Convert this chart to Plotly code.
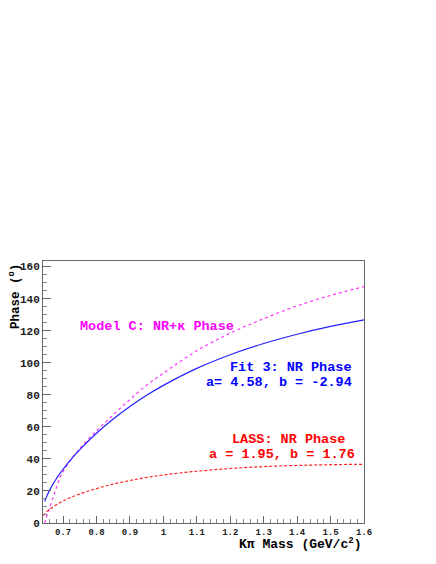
import plotly.graph_objects as go

# K-pi invariant mass points (GeV/c^2)
mass_fit = [0.645, 0.65, 0.655, 0.66, 0.67, 0.68, 0.69, 0.70, 0.725, 0.75, 0.80, 0.85,
            0.90, 0.95, 1.0, 1.1, 1.2, 1.3, 1.4, 1.5, 1.6]
phase_fit3 = [13.4, 16.1, 18.4, 20.5, 24.3, 27.6, 30.7, 33.5, 40.0, 45.8, 56.0, 64.9,
              72.7, 79.7, 85.9, 96.5, 105.0, 112.0, 117.8, 122.7, 126.8]

mass_lass = [0.641, 0.645, 0.65, 0.655, 0.66, 0.67, 0.68, 0.69, 0.70, 0.725, 0.75, 0.80,
             0.85, 0.90, 0.95, 1.0, 1.1, 1.2, 1.3, 1.4, 1.5, 1.6]
phase_lass = [4.6, 5.7, 6.8, 7.7, 8.6, 10.1, 11.4, 12.6, 13.7, 16.1, 18.1, 21.5,
              24.3, 26.5, 28.4, 30.0, 32.3, 34.0, 35.2, 35.9, 36.4, 36.6]

mass_model = [0.645, 0.65, 0.655, 0.66, 0.67, 0.68, 0.69, 0.70, 0.725, 0.75, 0.80, 0.85,
              0.90, 0.95, 1.0, 1.1, 1.2, 1.3, 1.4, 1.5, 1.6]
phase_model = [0.0, 3.5, 6.5, 9.5, 16.0, 22.0, 28.0, 32.0, 40.0, 46.5, 57.5, 67.5,
               77.0, 86.0, 93.5, 107.5, 118.5, 127.5, 135.5, 142.0, 147.5]

x_ticks = [0.7, 0.8, 0.9, 1.0, 1.1, 1.2, 1.3, 1.4, 1.5, 1.6]
x_labels = ["0.7", "0.8", "0.9", "1", "1.1", "1.2", "1.3", "1.4", "1.5", "1.6"]
y_ticks = [0, 20, 40, 60, 80, 100, 120, 140, 160]

FONT = "Liberation Mono, Courier New, monospace"

fig = go.Figure()
fig.add_trace(go.Scatter(x=mass_model, y=phase_model, mode="lines", line_shape="spline",
                         line=dict(color="#ff33ff", width=1.2, dash="dot")))
fig.add_trace(go.Scatter(x=mass_fit, y=phase_fit3, mode="lines", line_shape="spline",
                         line=dict(color="#2222ff", width=1.2)))
fig.add_trace(go.Scatter(x=mass_lass, y=phase_lass, mode="lines", line_shape="spline",
                         line=dict(color="#ff2222", width=1.2, dash="3px,2px")))

texts = [
    dict(x=0.981, y=122.9, text="<b>Model C: NR+\u03ba Phase</b>", color="#ff00ff", xanchor="center"),
    dict(x=1.569, y=97.1, text="<b>Fit 3: NR Phase</b>", color="#0000ff", xanchor="right"),
    dict(x=1.569, y=87.9, text="<b>a= 4.58, b = -2.94</b>", color="#0000ff", xanchor="right"),
    dict(x=1.373, y=52.1, text="<b>LASS: NR Phase</b>", color="#ff0000", xanchor="center"),
    dict(x=1.354, y=42.7, text="<b>a = 1.95, b = 1.76</b>", color="#ff0000", xanchor="center"),
]
for t in texts:
    fig.add_annotation(x=t["x"], y=t["y"], text=t["text"], showarrow=False,
                       xanchor=t["xanchor"], yanchor="middle",
                       font=dict(family=FONT, size=13.5, color=t["color"]))

fig.add_annotation(x=1.0, y=-0.079, xref="paper", yref="paper", showarrow=False,
                   text="<b>K\u03c0 Mass (GeV/c<sup>2</sup>)</b>", xanchor="right", yanchor="middle",
                   font=dict(family=FONT, size=13, color="black"))
fig.add_annotation(x=-0.087, y=0.863, xref="paper", yref="paper", showarrow=False,
                   text="<b>Phase (<sup>o</sup>)</b>", textangle=-90, xanchor="center", yanchor="middle",
                   font=dict(family=FONT, size=12.5, color="black"))

fig.update_xaxes(range=[0.64, 1.6], showgrid=False, zeroline=False,
                 showline=True, linecolor="#666", linewidth=1, mirror=True,
                 ticks="inside", ticklen=7, tickcolor="#666",
                 tickvals=x_ticks, ticktext=["<b>%s</b>" % s for s in x_labels],
                 minor=dict(ticks="inside", ticklen=4, dtick=0.02, tick0=0.7, tickcolor="#888"),
                 tickfont=dict(family=FONT, size=9, color="#222"))
fig.update_yaxes(range=[0, 163.5], showgrid=False, zeroline=False,
                 showline=True, linecolor="#666", linewidth=1, mirror=True,
                 ticks="inside", ticklen=8, tickcolor="#666",
                 tickvals=y_ticks, ticktext=["<b>%d</b>" % v for v in y_ticks],
                 minor=dict(ticks="inside", ticklen=4, dtick=5, tickcolor="#888"),
                 tickfont=dict(family=FONT, size=11, color="#222"))

# page body adds ~8px offset, so margins compensate
fig.update_layout(width=436, height=564, showlegend=False,
                  margin=dict(l=33, r=80, t=253, b=49),
                  paper_bgcolor="white", plot_bgcolor="white")
fig.write_html("out.html")
